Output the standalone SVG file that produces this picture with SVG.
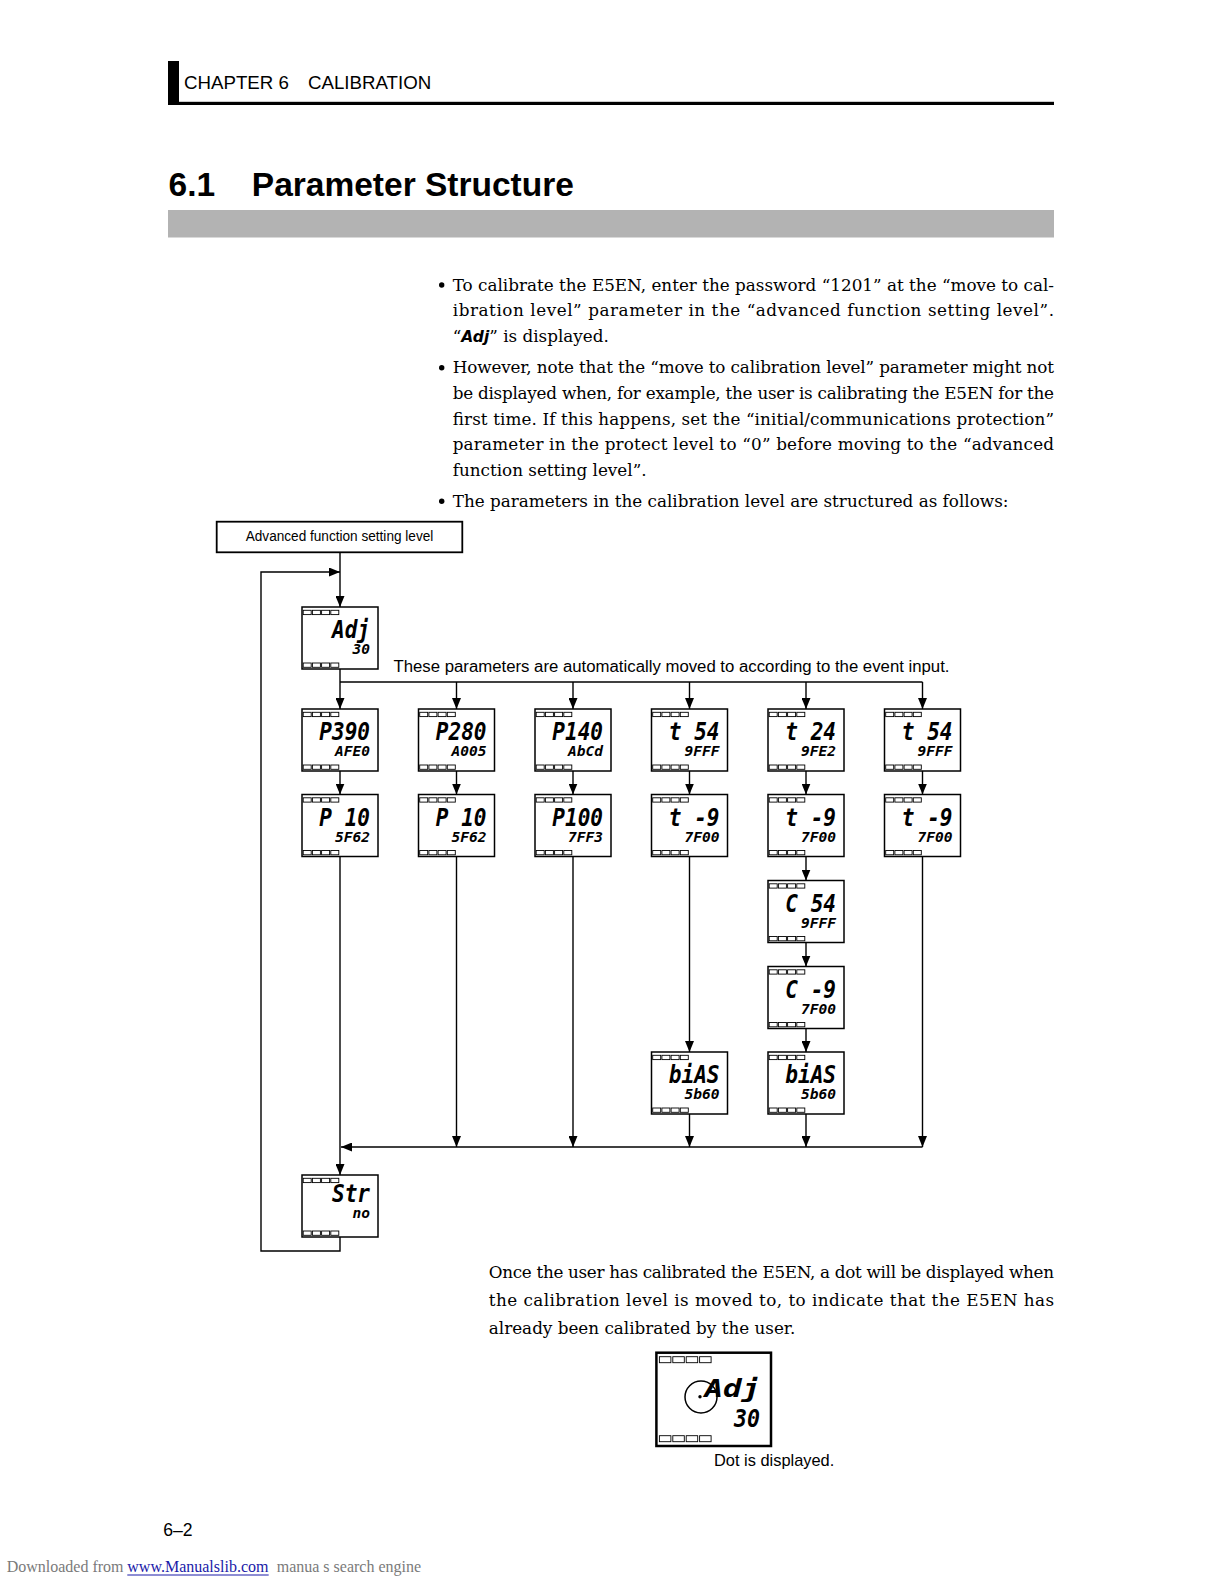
<svg xmlns="http://www.w3.org/2000/svg" width="1224" height="1584" viewBox="0 0 1224 1584">
<style>
.disp{fill:#fff;stroke:#000;stroke-width:1.5}
.led{fill:#fff;stroke:#000;stroke-width:0.9}
.s1{font-family:'DejaVu Sans Mono','Liberation Mono',monospace;font-weight:bold;font-style:oblique;font-size:25px;fill:#000}
.s2{font-family:'DejaVu Sans Mono','Liberation Mono',monospace;font-weight:bold;font-style:oblique;font-size:13.5px;fill:#000}
.conn{fill:none;stroke:#000;stroke-width:1.4}
.arr{marker-end:url(#ah)}
.body{font-family:'DejaVu Serif','Liberation Serif',serif;font-size:16.8px;fill:#000}
.sans{font-family:'Liberation Sans',Arial,sans-serif;fill:#000}
.foot{font-family:'Liberation Serif','Times New Roman',serif;font-size:16px;fill:#7a7a7a}
</style>
<defs>
<marker id="ah" viewBox="0 0 11 9" refX="11" refY="4.5" markerWidth="11" markerHeight="9" markerUnits="userSpaceOnUse" orient="auto">
<path d="M0,0 L11,4.5 L0,9 z" fill="#000"/>
</marker>
<g id="leds">
<rect class="led" x="1.2" y="0" width="8" height="4.3"/>
<rect class="led" x="10.4" y="0" width="8" height="4.3"/>
<rect class="led" x="19.6" y="0" width="8" height="4.3"/>
<rect class="led" x="28.8" y="0" width="8" height="4.3"/>
</g>
<g id="bigleds">
<rect class="led" x="3" y="0" width="11.5" height="6" stroke-width="1.4"/>
<rect class="led" x="16.4" y="0" width="11.5" height="6" stroke-width="1.4"/>
<rect class="led" x="29.8" y="0" width="11.5" height="6" stroke-width="1.4"/>
<rect class="led" x="43.2" y="0" width="11.5" height="6" stroke-width="1.4"/>
</g>
</defs>

<!-- page header -->
<g id="header">
<rect x="168" y="61" width="11" height="44" fill="#000"/>
<rect x="168" y="101.8" width="886" height="3.2" fill="#000"/>
<text class="sans" x="184" y="89" font-size="18.7">CHAPTER 6</text>
<text class="sans" x="308" y="89" font-size="18.7">CALIBRATION</text>
</g>
<g id="title">
<text class="sans" x="168.6" y="195.7" font-size="33.5" font-weight="bold">6.1</text>
<text class="sans" x="251.8" y="195.7" font-size="33.5" font-weight="bold">Parameter Structure</text>
<rect x="168" y="210" width="886" height="27.5" fill="#b3b3b3"/>
</g>

<!-- body text -->
<g id="bullets">
<circle cx="441.7" cy="285" r="2.7" fill="#000"/>
<circle cx="441.7" cy="367.7" r="2.7" fill="#000"/>
<circle cx="441.7" cy="501.2" r="2.7" fill="#000"/>
<text class="body" x="452.7" y="290.5" textLength="601.3" lengthAdjust="spacing">To calibrate the E5EN, enter the password “1201” at the “move to cal-</text>
<text class="body" x="452.7" y="316.2" textLength="601.3" lengthAdjust="spacing">ibration level” parameter in the “advanced function setting level”.</text>
<text class="body" x="452.7" y="341.9">“<tspan font-family="'DejaVu Sans','Liberation Sans',sans-serif" font-weight="bold" font-style="oblique" font-size="15.5">Adj</tspan>” is displayed.</text>
<text class="body" x="452.7" y="373.2" textLength="601.3" lengthAdjust="spacing">However, note that the “move to calibration level” parameter might not</text>
<text class="body" x="452.7" y="398.9" textLength="601.3" lengthAdjust="spacing">be displayed when, for example, the user is calibrating the E5EN for the</text>
<text class="body" x="452.7" y="424.6" textLength="601.3" lengthAdjust="spacing">first time. If this happens, set the “initial/communications protection”</text>
<text class="body" x="452.7" y="450.3" textLength="601.3" lengthAdjust="spacing">parameter in the protect level to “0” before moving to the “advanced</text>
<text class="body" x="452.7" y="476">function setting level”.</text>
<text class="body" x="452.7" y="506.7">The parameters in the calibration level are structured as follows:</text>
</g>

<!-- connectors -->
<g id="connectors">
<path class="conn arr" d="M340,552.3 V607"/>
<path class="conn arr" d="M340,669 V709"/>
<path class="conn" d="M340,682 H922.5"/>
<path class="conn arr" d="M456.5,682 V709"/>
<path class="conn arr" d="M573,682 V709"/>
<path class="conn arr" d="M689.5,682 V709"/>
<path class="conn arr" d="M806,682 V709"/>
<path class="conn arr" d="M922.5,682 V709"/>
<path class="conn arr" d="M340,771 V794.5"/>
<path class="conn arr" d="M456.5,771 V794.5"/>
<path class="conn arr" d="M573,771 V794.5"/>
<path class="conn arr" d="M689.5,771 V794.5"/>
<path class="conn arr" d="M806,771 V794.5"/>
<path class="conn arr" d="M922.5,771 V794.5"/>
<path class="conn arr" d="M806,856.5 V880.5"/>
<path class="conn arr" d="M806,942.5 V966.5"/>
<path class="conn arr" d="M806,1028.5 V1052"/>
<path class="conn arr" d="M689.5,856.5 V1052"/>
<path class="conn arr" d="M456.5,856.5 V1147"/>
<path class="conn arr" d="M573,856.5 V1147"/>
<path class="conn arr" d="M689.5,1114 V1147"/>
<path class="conn arr" d="M806,1114 V1147"/>
<path class="conn arr" d="M922.5,856.5 V1147"/>
<path class="conn arr" d="M922.5,1147 H341"/>
<path class="conn arr" d="M340,856.5 V1175"/>
<path class="conn arr" d="M340,1237 V1251 H261 V572 H340"/>
</g>

<!-- nodes -->
<g id="node-advanced">
<rect x="216.7" y="521.7" width="245.6" height="30.6" fill="#fff" stroke="#000" stroke-width="1.8"/>
<text class="sans" x="245.7" y="541" font-size="15.5" textLength="187.6" lengthAdjust="spacingAndGlyphs">Advanced function setting level</text>
</g>

<text class="sans" x="393.5" y="672" font-size="16" textLength="556" lengthAdjust="spacingAndGlyphs">These parameters are automatically moved to according to the event input.</text>

<g id="node-adj" transform="translate(302,607)">
<rect class="disp" width="76" height="62"/>
<use href="#leds" y="3.3"/><use href="#leds" y="56"/>
<text class="s1" x="30" y="31" textLength="38" lengthAdjust="spacingAndGlyphs">Adj</text>
<text class="s2" x="50.5" y="47" textLength="17.5" lengthAdjust="spacingAndGlyphs">30</text>
</g>

<g id="node-p390" transform="translate(302,709)">
<rect class="disp" width="76" height="62"/>
<use href="#leds" y="3.3"/><use href="#leds" y="56"/>
<text class="s1" x="17.3" y="31" textLength="50.7" lengthAdjust="spacingAndGlyphs">P390</text>
<text class="s2" x="33" y="47" textLength="35" lengthAdjust="spacingAndGlyphs">AFE0</text>
</g>
<g id="node-p280" transform="translate(418.5,709)">
<rect class="disp" width="76" height="62"/>
<use href="#leds" y="3.3"/><use href="#leds" y="56"/>
<text class="s1" x="17.3" y="31" textLength="50.7" lengthAdjust="spacingAndGlyphs">P280</text>
<text class="s2" x="33" y="47" textLength="35" lengthAdjust="spacingAndGlyphs">A005</text>
</g>
<g id="node-p140" transform="translate(535,709)">
<rect class="disp" width="76" height="62"/>
<use href="#leds" y="3.3"/><use href="#leds" y="56"/>
<text class="s1" x="17.3" y="31" textLength="50.7" lengthAdjust="spacingAndGlyphs">P140</text>
<text class="s2" x="33" y="47" textLength="35" lengthAdjust="spacingAndGlyphs">AbCd</text>
</g>
<g id="node-t54a" transform="translate(651.5,709)">
<rect class="disp" width="76" height="62"/>
<use href="#leds" y="3.3"/><use href="#leds" y="56"/>
<text class="s1" x="17.3" y="31" textLength="50.7" lengthAdjust="spacingAndGlyphs">t 54</text>
<text class="s2" x="33" y="47" textLength="35" lengthAdjust="spacingAndGlyphs">9FFF</text>
</g>
<g id="node-t24" transform="translate(768,709)">
<rect class="disp" width="76" height="62"/>
<use href="#leds" y="3.3"/><use href="#leds" y="56"/>
<text class="s1" x="17.3" y="31" textLength="50.7" lengthAdjust="spacingAndGlyphs">t 24</text>
<text class="s2" x="33" y="47" textLength="35" lengthAdjust="spacingAndGlyphs">9FE2</text>
</g>
<g id="node-t54b" transform="translate(884.5,709)">
<rect class="disp" width="76" height="62"/>
<use href="#leds" y="3.3"/><use href="#leds" y="56"/>
<text class="s1" x="17.3" y="31" textLength="50.7" lengthAdjust="spacingAndGlyphs">t 54</text>
<text class="s2" x="33" y="47" textLength="35" lengthAdjust="spacingAndGlyphs">9FFF</text>
</g>

<g id="node-p10a" transform="translate(302,794.5)">
<rect class="disp" width="76" height="62"/>
<use href="#leds" y="3.3"/><use href="#leds" y="56"/>
<text class="s1" x="17.3" y="31" textLength="50.7" lengthAdjust="spacingAndGlyphs">P 10</text>
<text class="s2" x="33" y="47" textLength="35" lengthAdjust="spacingAndGlyphs">5F62</text>
</g>
<g id="node-p10b" transform="translate(418.5,794.5)">
<rect class="disp" width="76" height="62"/>
<use href="#leds" y="3.3"/><use href="#leds" y="56"/>
<text class="s1" x="17.3" y="31" textLength="50.7" lengthAdjust="spacingAndGlyphs">P 10</text>
<text class="s2" x="33" y="47" textLength="35" lengthAdjust="spacingAndGlyphs">5F62</text>
</g>
<g id="node-p100" transform="translate(535,794.5)">
<rect class="disp" width="76" height="62"/>
<use href="#leds" y="3.3"/><use href="#leds" y="56"/>
<text class="s1" x="17.3" y="31" textLength="50.7" lengthAdjust="spacingAndGlyphs">P100</text>
<text class="s2" x="33" y="47" textLength="35" lengthAdjust="spacingAndGlyphs">7FF3</text>
</g>
<g id="node-t9a" transform="translate(651.5,794.5)">
<rect class="disp" width="76" height="62"/>
<use href="#leds" y="3.3"/><use href="#leds" y="56"/>
<text class="s1" x="17.3" y="31" textLength="50.7" lengthAdjust="spacingAndGlyphs">t -9</text>
<text class="s2" x="33" y="47" textLength="35" lengthAdjust="spacingAndGlyphs">7F00</text>
</g>
<g id="node-t9b" transform="translate(768,794.5)">
<rect class="disp" width="76" height="62"/>
<use href="#leds" y="3.3"/><use href="#leds" y="56"/>
<text class="s1" x="17.3" y="31" textLength="50.7" lengthAdjust="spacingAndGlyphs">t -9</text>
<text class="s2" x="33" y="47" textLength="35" lengthAdjust="spacingAndGlyphs">7F00</text>
</g>
<g id="node-t9c" transform="translate(884.5,794.5)">
<rect class="disp" width="76" height="62"/>
<use href="#leds" y="3.3"/><use href="#leds" y="56"/>
<text class="s1" x="17.3" y="31" textLength="50.7" lengthAdjust="spacingAndGlyphs">t -9</text>
<text class="s2" x="33" y="47" textLength="35" lengthAdjust="spacingAndGlyphs">7F00</text>
</g>

<g id="node-c54" transform="translate(768,880.5)">
<rect class="disp" width="76" height="62"/>
<use href="#leds" y="3.3"/><use href="#leds" y="56"/>
<text class="s1" x="17.3" y="31" textLength="50.7" lengthAdjust="spacingAndGlyphs">C 54</text>
<text class="s2" x="33" y="47" textLength="35" lengthAdjust="spacingAndGlyphs">9FFF</text>
</g>
<g id="node-c9" transform="translate(768,966.5)">
<rect class="disp" width="76" height="62"/>
<use href="#leds" y="3.3"/><use href="#leds" y="56"/>
<text class="s1" x="17.3" y="31" textLength="50.7" lengthAdjust="spacingAndGlyphs">C -9</text>
<text class="s2" x="33" y="47" textLength="35" lengthAdjust="spacingAndGlyphs">7F00</text>
</g>
<g id="node-bias-a" transform="translate(651.5,1052)">
<rect class="disp" width="76" height="62"/>
<use href="#leds" y="3.3"/><use href="#leds" y="56"/>
<text class="s1" x="17.3" y="31" textLength="50.7" lengthAdjust="spacingAndGlyphs">biAS</text>
<text class="s2" x="33" y="47" textLength="35" lengthAdjust="spacingAndGlyphs">5b60</text>
</g>
<g id="node-bias-b" transform="translate(768,1052)">
<rect class="disp" width="76" height="62"/>
<use href="#leds" y="3.3"/><use href="#leds" y="56"/>
<text class="s1" x="17.3" y="31" textLength="50.7" lengthAdjust="spacingAndGlyphs">biAS</text>
<text class="s2" x="33" y="47" textLength="35" lengthAdjust="spacingAndGlyphs">5b60</text>
</g>

<g id="node-str" transform="translate(302,1175)">
<rect class="disp" width="76" height="62"/>
<use href="#leds" y="3.3"/><use href="#leds" y="56"/>
<text class="s1" x="30" y="27" textLength="38" lengthAdjust="spacingAndGlyphs">Str</text>
<text class="s2" x="50.5" y="43" textLength="17.5" lengthAdjust="spacingAndGlyphs">no</text>
</g>

<!-- lower paragraph -->
<g id="note">
<text class="body" x="488.8" y="1278" textLength="565.2" lengthAdjust="spacing">Once the user has calibrated the E5EN, a dot will be displayed when</text>
<text class="body" x="488.8" y="1305.8" textLength="565.2" lengthAdjust="spacing">the calibration level is moved to, to indicate that the E5EN has</text>
<text class="body" x="488.8" y="1333.6">already been calibrated by the user.</text>
</g>

<g id="node-dot-display" transform="translate(656.4,1352.7)">
<rect width="114.6" height="93.3" fill="#fff" stroke="#000" stroke-width="2.5"/>
<use href="#bigleds" y="4"/><use href="#bigleds" y="83"/>
<text class="s1" x="48" y="44" font-size="36" textLength="56" lengthAdjust="spacingAndGlyphs">Adj</text>
<text class="s1" x="77.6" y="74" font-size="23" textLength="26" lengthAdjust="spacingAndGlyphs">30</text>
<circle cx="44.6" cy="44.3" r="16" fill="none" stroke="#000" stroke-width="1.5"/>
<circle cx="43.6" cy="44" r="1.7" fill="#000"/>
</g>
<text class="sans" x="714" y="1466" font-size="16.4">Dot is displayed.</text>

<!-- footer -->
<text class="sans" x="163.3" y="1536" font-size="17.6">6–2</text>
<g id="footer">
<text class="foot" x="6.7" y="1571.7">Downloaded from</text>
<text class="foot" x="127.3" y="1571.7" style="fill:#1a1aa8">www.Manualslib.com</text>
<line x1="127.3" y1="1575" x2="268.7" y2="1575" stroke="#1a1aa8" stroke-width="1"/>
<text class="foot" x="276.7" y="1571.7">manua s search engine</text>
</g>
</svg>
